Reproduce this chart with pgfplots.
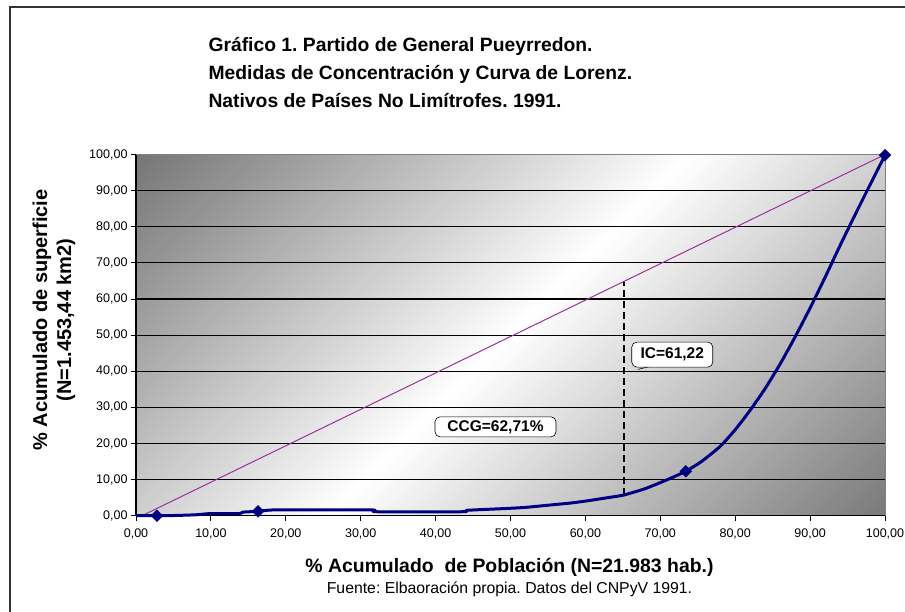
\documentclass[border=0pt]{standalone}
\usepackage{fontspec}
\setmainfont{Liberation Sans}
\usepackage{pgfplots}
\pgfplotsset{compat=1.18}
\frenchspacing

\definecolor{navyc}{RGB}{0,0,128}
\definecolor{diagc}{RGB}{153,51,153}
\definecolor{bgdark}{RGB}{118,118,118}
\definecolor{bgdarkb}{RGB}{122,122,122}
\pgfdeclarehorizontalshading{bgshade}{100bp}{color(0bp)=(bgdark); color(14.6bp)=(bgdark); color(50bp)=(white); color(85.4bp)=(bgdarkb); color(100bp)=(bgdarkb)}

\begin{document}
\begin{tikzpicture}
\path[use as bounding box] (0,0) rectangle (905pt,-612pt);
\fill[white] (0,0) rectangle (905pt,-612pt);
\draw[line width=1.5pt, black!80] (10pt,-612pt) -- (10pt,-7pt) -- (905pt,-7pt);
\begin{axis}[
  at={(136pt,-515.7pt)}, anchor=south west,
  scale only axis, width=749pt, height=361.2pt,
  xmin=0, xmax=100, ymin=0, ymax=100,
  xtick={0,10,...,100}, ytick={0,10,...,100},
  axis x line*=bottom, axis y line*=left,
  axis line style={black, line width=1.1pt},
  tick align=outside, major tick length=5pt,
  tick style={black, line width=0.9pt},
  ymajorgrids, grid style={black, line width=1.1pt},
  ticklabel style={font=\fontsize{12.5}{14}\selectfont},
  xticklabel style={yshift=-5pt},
  /pgf/number format/fixed,
  /pgf/number format/fixed zerofill,
  /pgf/number format/precision=2,
  /pgf/number format/use comma,
  /pgf/number format/assume math mode=true,
  axis background/.style={shade, shading=bgshade, shading angle=-45},
  clip=false,
]
\addplot[diagc, line width=1pt] coordinates {(0.8,0) (100,100)};
\addplot[black, line width=2.2pt, dash pattern=on 7pt off 4pt] coordinates {(65.1,5.7) (65.1,64.6)};
\addplot[navyc, line width=3pt, line join=round, smooth, tension=0.3] coordinates {
(0,0) (2.8,0) (5,0.05) (8,0.25) (10,0.6) (13.8,0.6) (14.3,1.0) (16.3,1.2)
(18.5,1.6) (31.5,1.6) (32,1.1) (43.7,1.1) (44.2,1.5) (49.5,2.0) (52,2.3)
(55,2.9) (58,3.5) (60.2,4.1) (63,5.0) (65.1,5.7) (68,7.5) (71.3,10.3)
(73.4,12.3) (75.5,15) (78,19.2) (80,23.8) (82,29.2) (84,35.2) (86,42)
(88,49.5) (90,57.5) (92,66) (94,74.8) (96,83.3) (98,91.6) (100,99.8)};
\draw[black!50, line width=0.8pt] (rel axis cs:0,1) -- (rel axis cs:1,1) -- (rel axis cs:1,0);
\addplot[only marks, mark=square*, mark size=4.2pt, mark options={rotate=45, fill=navyc, draw=navyc}] coordinates {(2.8,0) (16.3,1.2) (73.4,12.3) (100,99.8)};
\draw[line width=0.6pt] (axis cs:67.0,40.5) -- (axis cs:69.2,41.6);
\node[draw=black, fill=white, rounded corners=5pt, line width=0.6pt, inner sep=1pt, minimum width=81pt, minimum height=25pt, font=\bfseries\fontsize{15.5}{17}\selectfont] at (axis cs:71.6,44.6) {IC=61,22};
\node[draw=black, fill=white, rounded corners=5pt, line width=0.6pt, inner sep=1pt, minimum width=121pt, minimum height=20pt, font=\bfseries\fontsize{15.5}{17}\selectfont] at (axis cs:48.0,24.6) {CCG=62,71\%};
\end{axis}
\node[anchor=base west, font=\bfseries\fontsize{19.3}{22}\selectfont] at (205pt,-52pt) {Gráfico 1. Partido de General Pueyrredon.};
\node[anchor=base west, font=\bfseries\fontsize{19.3}{22}\selectfont] at (205pt,-80pt) {Medidas de Concentración y Curva de Lorenz.};
\node[anchor=base west, font=\bfseries\fontsize{19.3}{22}\selectfont] at (205pt,-108pt) {Nativos de Países No Limítrofes. 1991.};
\node[anchor=base, font=\bfseries\fontsize{19.4}{21}\selectfont] at (509.5pt,-572pt) {\% Acumulado\ \ de Población (N=21.983 hab.)};
\node[anchor=base, font=\fontsize{15.8}{17}\selectfont] at (509.5pt,-593pt) {Fuente: Elbaoración propia. Datos del CNPyV 1991.};
\node[rotate=90, font=\bfseries\fontsize{20}{22}\selectfont] at (42pt,-320pt) {\% Acumulado de superficie};
\node[rotate=90, font=\bfseries\fontsize{20}{22}\selectfont] at (66pt,-320pt) {(N=1.453,44 km2)};
\end{tikzpicture}
\end{document}
